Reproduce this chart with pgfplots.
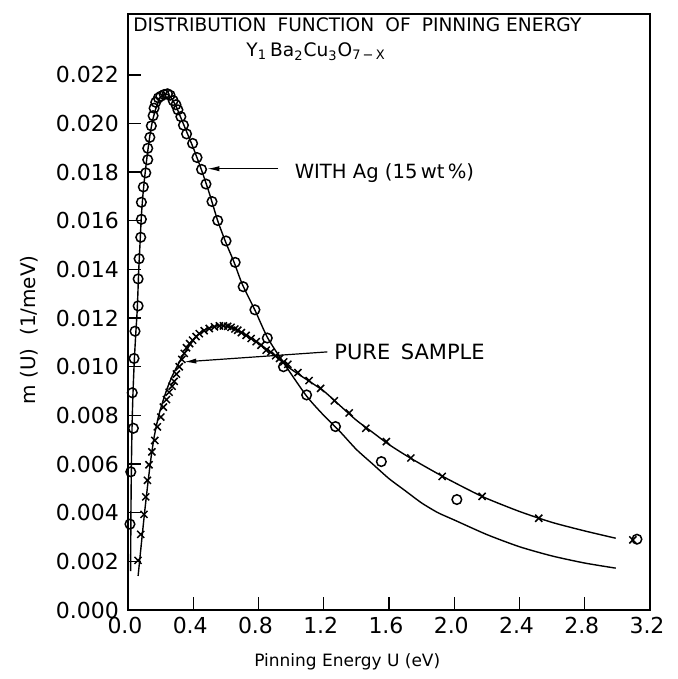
\documentclass[border=0pt]{standalone}
\usepackage{fontspec}
\setmainfont{DejaVu Sans}
\usepackage{pgfplots}
\pgfplotsset{compat=1.18}
\usetikzlibrary{arrows.meta}
\begin{document}
\begin{tikzpicture}
\begin{axis}[
  scale only axis, width=261pt, height=298pt,
  xmin=0, xmax=3.2, ymin=0, ymax=0.0245,
  clip=false,
  xtick={0,0.4,0.8,1.2,1.6,2.0,2.4,2.8,3.2},
  ytick={0,0.002,0.004,0.006,0.008,0.010,0.012,0.014,0.016,0.018,0.020,0.022},
  xtick pos=bottom, ytick pos=left, tick align=inside,
  major tick length=6.3pt,
  tick style={line width=0.7pt, black},
  axis line style={line width=0.8pt},
  scaled y ticks=false, scaled x ticks=false,
  ticklabel style={font=\fontsize{11}{13}\selectfont},
  xticklabel style={xshift=-1.5pt, /pgf/number format/.cd, fixed, fixed zerofill, precision=1, assume math mode=true},
  yticklabel style={xshift=-1pt, /pgf/number format/.cd, fixed, fixed zerofill, precision=3, assume math mode=true},
  xlabel={Pinning Energy U (eV)},
  ylabel={m (U)\ \ (1/meV)},
  xlabel style={font=\fontsize{8.5}{10}\selectfont, at={(axis description cs:0.42,0)}, anchor=center, yshift=-26pt},
  ylabel style={font=\fontsize{10}{12}\selectfont, at={(axis description cs:-0.19,0.47)}, anchor=center},
]
% fitted curve, with Ag
\addplot[black, line width=0.7pt, smooth, tension=0.4] coordinates {
(0.016,0.0016) (0.018,0.0040) (0.021,0.0060) (0.025,0.0076) (0.031,0.0090)
(0.039,0.0103) (0.048,0.0114) (0.057,0.0124) (0.066,0.0140) (0.074,0.0151)
(0.082,0.0162) (0.092,0.0171) (0.104,0.0179) (0.118,0.0187) (0.134,0.0195)
(0.150,0.0201) (0.170,0.0206) (0.195,0.02105) (0.220,0.02118) (0.245,0.0212)
(0.270,0.0210) (0.295,0.0207) (0.32,0.0203) (0.36,0.01965) (0.40,0.0190)
(0.45,0.0181) (0.50,0.0171) (0.55,0.0160) (0.60,0.0151) (0.65,0.0143)
(0.70,0.0134) (0.78,0.0123) (0.855,0.0112) (0.95,0.0102) (1.094,0.0088)
(1.20,0.0080) (1.30,0.00733) (1.40,0.0066) (1.50,0.0060) (1.60,0.0054)
(1.70,0.0049) (1.80,0.0044) (1.90,0.0040) (2.00,0.0037) (2.20,0.0031)
(2.40,0.0026) (2.60,0.00222) (2.80,0.00193) (2.99,0.00172)
};
% fitted curve, pure sample
\addplot[black, line width=0.7pt, smooth, tension=0.4] coordinates {
(0.062,0.0014) (0.080,0.0026) (0.100,0.0039) (0.120,0.0051) (0.140,0.0062)
(0.160,0.0071) (0.185,0.0079) (0.21,0.0085) (0.24,0.0091) (0.27,0.0096)
(0.30,0.0100) (0.34,0.0105) (0.38,0.0109) (0.42,0.01125) (0.46,0.01148)
(0.50,0.01160) (0.55,0.01168) (0.60,0.01167) (0.65,0.01157) (0.70,0.01140)
(0.80,0.01098) (0.90,0.01045) (1.00,0.0099) (1.10,0.00945) (1.20,0.0090)
(1.30,0.0084) (1.40,0.0078) (1.50,0.0073) (1.60,0.0068) (1.73,0.00625)
(1.93,0.00549) (2.17,0.00467) (2.40,0.00405) (2.60,0.0036) (2.80,0.00325)
(2.99,0.00295)
};
% data, with Ag (circles)
\addplot[only marks, mark=o, mark size=2.4pt, mark options={line width=0.75pt, fill=white}] coordinates {
(0.012,0.00353) (0.017,0.00568) (0.033,0.00747) (0.026,0.00893) (0.037,0.01034)
(0.043,0.01146) (0.062,0.0125) (0.062,0.01361) (0.068,0.01444) (0.078,0.01532)
(0.082,0.01606) (0.082,0.01676) (0.094,0.01739) (0.109,0.01797) (0.121,0.01851)
(0.121,0.01898) (0.134,0.01943) (0.143,0.0199) (0.154,0.02032) (0.160,0.02063)
(0.170,0.02087) (0.186,0.02105) (0.201,0.02112) (0.222,0.02119) (0.242,0.02122)
(0.258,0.02116) (0.277,0.02094) (0.294,0.02077) (0.306,0.02056) (0.324,0.02028)
(0.340,0.01993) (0.359,0.01957) (0.396,0.01918) (0.423,0.0186) (0.451,0.01811)
(0.478,0.01751) (0.515,0.01679) (0.550,0.01601) (0.601,0.01517) (0.657,0.01429)
(0.706,0.01329) (0.778,0.01234) (0.854,0.01118) (0.953,0.0100) (1.095,0.00884)
(1.272,0.00754) (1.553,0.0061) (2.016,0.00454) (3.12,0.00291)
};
% data, pure sample (crosses)
\addplot[only marks, mark=x, mark size=2.5pt, mark options={line width=0.75pt}] coordinates {
(0.0615,0.00204) (0.078,0.00311) (0.098,0.00393) (0.109,0.00465) (0.119,0.00533)
(0.129,0.00597) (0.146,0.0065) (0.164,0.00697) (0.180,0.00753) (0.201,0.00793)
(0.217,0.00834) (0.236,0.00865) (0.252,0.00895) (0.270,0.0092) (0.283,0.0094)
(0.297,0.0097) (0.314,0.0100) (0.330,0.0103) (0.345,0.01055) (0.359,0.01078)
(0.378,0.01095) (0.396,0.01109) (0.417,0.01124) (0.437,0.01136) (0.467,0.01148)
(0.498,0.01157) (0.53,0.01164) (0.560,0.01168) (0.585,0.01168) (0.611,0.01166)
(0.632,0.01162) (0.655,0.01155) (0.673,0.01150) (0.695,0.0114) (0.724,0.01129)
(0.755,0.01116) (0.786,0.01103) (0.815,0.01088) (0.847,0.01068) (0.875,0.0106)
(0.905,0.01045) (0.929,0.01034) (0.955,0.0102) (0.980,0.01010) (1.042,0.00976)
(1.110,0.00943) (1.181,0.00911) (1.265,0.0086) (1.356,0.0081) (1.458,0.00747)
(1.584,0.00692) (1.734,0.00625) (1.926,0.00549) (2.171,0.00467) (2.518,0.00377)
(3.095,0.00288)
};
% annotations
\node[anchor=base west, inner sep=0pt, font=\fontsize{9.3}{11}\selectfont] at (axis cs:0.03,0.0238)
  {DISTRIBUTION\hspace{0.6em}FUNCTION\hspace{0.6em}OF\hspace{0.6em}PINNING ENERGY};
\node[anchor=base, inner sep=0pt, font=\fontsize{9.3}{11}\selectfont] at (axis cs:1.153,0.02275)
  {Y\textsubscript{1}\,Ba\textsubscript{2}Cu\textsubscript{3}O\textsubscript{7\,−\,X}};
\draw[line width=0.6pt, -{Latex[length=6pt,width=2.6pt]}] (axis cs:0.92,0.01814) -- (axis cs:0.486,0.01814);
\node[anchor=base west, inner sep=0pt, font=\fontsize{9.8}{12}\selectfont] at (axis cs:1.02,0.01775)
  {WITH Ag (15\,wt\,\%)};
\draw[line width=0.6pt, -{Latex[length=6pt,width=2.6pt]}] (axis cs:1.222,0.01061) -- (axis cs:0.345,0.0102);
\node[anchor=west, inner sep=0pt, font=\fontsize{10.5}{12}\selectfont] at (axis cs:1.263,0.0106)
  {PURE\hspace{0.5em}SAMPLE};
\end{axis}
\pgfresetboundingbox
\path[use as bounding box] (-64pt,-34.5pt) rectangle (274.5pt,305pt);
\end{tikzpicture}
\end{document}
